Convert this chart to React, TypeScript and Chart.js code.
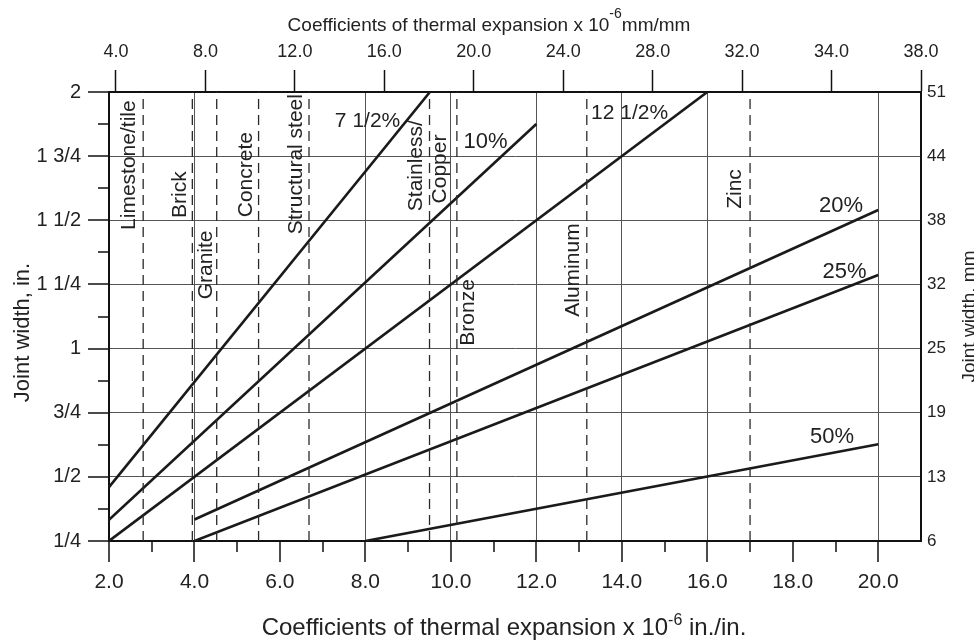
import React, { useEffect, useRef } from 'react';
import { Chart, registerables } from 'chart.js';

Chart.register(...registerables);

const FONT = '"Liberation Sans", Arial, Helvetica, sans-serif';
const INK = '#222222';

// ---- axes ----
const xMajorTicks = [2, 4, 6, 8, 10, 12, 14, 16, 18, 20];
const xMinorTicks = [3, 5, 7, 9, 11, 13, 15, 17, 19];
const xSolidGrid = [4, 8, 10, 12, 14, 16, 20];
const topTickIndex = [0, 1, 2, 3, 4, 5, 6, 7, 8, 9];
const topTickLabels = ['4.0', '8.0', '12.0', '16.0', '20.0', '24.0', '28.0', '32.0', '34.0', '38.0'];
const yTicks = [0.25, 0.5, 0.75, 1, 1.25, 1.5, 1.75, 2];
const yTickLabels = ['1/4', '1/2', '3/4', '1', '1 1/4', '1 1/2', '1 3/4', '2'];
const yMinorTicks = [0.375, 0.625, 0.875, 1.125, 1.375, 1.625, 1.875];
const mmTickLabels = ['6', '13', '19', '25', '32', '38', '44', '51'];

const bottomTitleParts = ['Coefficients of thermal expansion x 10', '-6', ' in./in.'];
const topTitleParts = ['Coefficients of thermal expansion x 10', '-6', 'mm/mm'];
const leftTitle = 'Joint width, in.';
const rightTitle = 'Joint width, mm';

// ---- materials (dashed verticals) ----
const materialCoefficients = [2.8, 3.95, 4.52, 5.5, 6.68, 9.5, 10.14, 13.18, 17.0];
const materialLabels = ['Limestone/tile', 'Brick', 'Granite', 'Concrete', 'Structural steel', 'Stainless/', 'Copper', 'Bronze', 'Aluminum', 'Zinc'];
const materialLabelX = [2.48, 3.67, 4.27, 5.21, 6.38, 9.18, 9.76, 10.4, 12.86, 16.65];
const materialLabelY = [1.715, 1.6, 1.326, 1.678, 1.719, 1.713, 1.7, 1.141, 1.306, 1.622];

// ---- movement lines ----
const movementLabels = ['7 1/2%', '10%', '12 1/2%', '20%', '25%', '50%'];
const movementStartX = [2, 2, 2, 4, 4, 8];
const movementStartY = [0.46, 0.333, 0.25, 0.334, 0.25, 0.25];
const movementEndX = [9.51, 12, 16, 20, 20, 20];
const movementEndY = [2, 1.875, 2, 1.54, 1.287, 0.627];
const movementLabelX = [8.05, 10.81, 14.18, 19.13, 19.21, 18.92];
const movementLabelY = [1.887, 1.807, 1.916, 1.554, 1.3, 0.655];
const movementLabelSize = [21, 22, 21, 22, 22, 22];

const Y_MIN = 0.25;
const Y_MAX = 2;

function drawText(ctx: CanvasRenderingContext2D, s: string, x: number, y: number, size: number, rotate = false, align: CanvasTextAlign = 'center', baseline: CanvasTextBaseline = 'middle') {
  ctx.save();
  ctx.translate(x, y);
  if (rotate) ctx.rotate(-Math.PI / 2);
  ctx.font = `${size}px ${FONT}`;
  ctx.fillStyle = INK;
  ctx.textAlign = align;
  ctx.textBaseline = baseline;
  ctx.fillText(s, 0, 0);
  ctx.restore();
}

function drawSupTitle(ctx: CanvasRenderingContext2D, parts: string[], centerX: number, baseY: number, mainSize: number, supSize: number, raise: number) {
  ctx.save();
  ctx.fillStyle = INK;
  ctx.textBaseline = 'alphabetic';
  ctx.textAlign = 'left';
  ctx.font = `${mainSize}px ${FONT}`;
  const w0 = ctx.measureText(parts[0]).width;
  const w2 = ctx.measureText(parts[2]).width;
  ctx.font = `${supSize}px ${FONT}`;
  const w1 = ctx.measureText(parts[1]).width;
  let x = centerX - (w0 + w1 + w2) / 2;
  ctx.font = `${mainSize}px ${FONT}`;
  ctx.fillText(parts[0], x, baseY);
  x += w0;
  ctx.font = `${supSize}px ${FONT}`;
  ctx.fillText(parts[1], x, baseY - raise);
  x += w1;
  ctx.font = `${mainSize}px ${FONT}`;
  ctx.fillText(parts[2], x, baseY);
  ctx.restore();
}

const decorations = {
  id: 'decorations',
  afterDraw(chart: any) {
    const ctx: CanvasRenderingContext2D = chart.ctx;
    const xs = chart.scales.x;
    const ys = chart.scales.y;
    const area = chart.chartArea;
    ctx.save();
    ctx.strokeStyle = '#111';
    ctx.lineWidth = 1.5;
    ctx.beginPath();
    xMajorTicks.forEach((v) => {
      const px = Math.round(xs.getPixelForValue(v));
      ctx.moveTo(px, area.bottom);
      ctx.lineTo(px, area.bottom + 21);
    });
    xMinorTicks.forEach((v) => {
      const px = Math.round(xs.getPixelForValue(v));
      ctx.moveTo(px, area.bottom);
      ctx.lineTo(px, area.bottom + 11);
    });
    yTicks.forEach((v) => {
      const py = Math.round(ys.getPixelForValue(v));
      ctx.moveTo(area.left, py);
      ctx.lineTo(area.left - 21, py);
    });
    yMinorTicks.forEach((v) => {
      const py = Math.round(ys.getPixelForValue(v));
      ctx.moveTo(area.left, py);
      ctx.lineTo(area.left - 11, py);
    });
    ctx.stroke();
    ctx.restore();

    materialLabels.forEach((s, i) => {
      drawText(ctx, s, xs.getPixelForValue(materialLabelX[i]), ys.getPixelForValue(materialLabelY[i]), 21, true);
    });
    movementLabels.forEach((s, i) => {
      drawText(ctx, s, xs.getPixelForValue(movementLabelX[i]), ys.getPixelForValue(movementLabelY[i]), movementLabelSize[i]);
    });

    const midY = (area.top + area.bottom) / 2;
    drawText(ctx, leftTitle, 29, midY + 16, 22, true, 'center', 'alphabetic');
    drawText(ctx, rightTitle, 975, midY, 19, true, 'center', 'alphabetic');
    const midX = (area.left + area.right) / 2;
    drawSupTitle(ctx, bottomTitleParts, midX - 11, 634.5, 24, 16, 9.5);
    drawSupTitle(ctx, topTitleParts, midX - 26, 30.5, 19, 14, 13);
  },
};

export default function App() {
  const ref = useRef<HTMLCanvasElement | null>(null);
  useEffect(() => {
    if (!ref.current) return;
    const datasets: any[] = [];
    materialCoefficients.forEach((c) => {
      datasets.push({
        data: [{ x: c, y: Y_MIN }, { x: c, y: Y_MAX }],
        borderColor: '#2a2a2a',
        borderWidth: 1.3,
        borderDash: [10, 6],
        pointRadius: 0,
        xAxisID: 'x',
        yAxisID: 'y',
      });
    });
    movementLabels.forEach((_, i) => {
      datasets.push({
        data: [{ x: movementStartX[i], y: movementStartY[i] }, { x: movementEndX[i], y: movementEndY[i] }],
        borderColor: '#1a1a1a',
        borderWidth: 2.6,
        pointRadius: 0,
        xAxisID: 'x',
        yAxisID: 'y',
      });
    });

    const tickFont = (size: number) => ({ family: FONT, size });

    const chart = new Chart(ref.current, {
      type: 'line',
      data: { datasets },
      plugins: [decorations],
      options: {
        animation: false,
        responsive: false,
        devicePixelRatio: 1,
        events: [],
        layout: { padding: 0 },
        plugins: { legend: { display: false }, tooltip: { enabled: false }, title: { display: false } },
        scales: {
          x: {
            type: 'linear',
            position: 'bottom',
            min: 2,
            max: 21,
            afterBuildTicks: (s: any) => { s.ticks = xMajorTicks.map((v) => ({ value: v })); },
            afterFit: (s: any) => { s.height = 101; },
            ticks: {
              autoSkip: false,
              maxRotation: 0,
              minRotation: 0,
              padding: 8,
              color: INK,
              font: tickFont(21),
              callback: (v: any) => Number(v).toFixed(1),
            },
            grid: {
              color: (c: any) => (c.tick && xSolidGrid.includes(c.tick.value) ? '#555' : 'rgba(0,0,0,0)'),
              lineWidth: 1,
              tickLength: 21,
              tickColor: 'rgba(0,0,0,0)',
            },
            border: { display: true, color: '#111', width: 2 },
          },
          x2: {
            type: 'linear',
            position: 'top',
            min: -0.078,
            max: 9,
            afterBuildTicks: (s: any) => { s.ticks = topTickIndex.map((v) => ({ value: v })); },
            afterFit: (s: any) => { s.height = 92; },
            ticks: {
              autoSkip: false,
              maxRotation: 0,
              minRotation: 0,
              padding: 7,
              color: INK,
              font: tickFont(18),
              callback: (_v: any, i: number) => topTickLabels[i],
            },
            grid: {
              drawOnChartArea: false,
              tickLength: 22,
              tickColor: '#111',
              tickWidth: 1.5,
            },
            border: { display: true, color: '#111', width: 2 },
          },
          y: {
            type: 'linear',
            position: 'left',
            min: Y_MIN,
            max: Y_MAX,
            afterBuildTicks: (s: any) => { s.ticks = yTicks.map((v) => ({ value: v })); },
            afterFit: (s: any) => { s.width = 109; },
            ticks: {
              autoSkip: false,
              padding: 7,
              color: INK,
              font: tickFont(20),
              callback: (_v: any, i: number) => yTickLabels[i],
            },
            grid: {
              color: '#555',
              lineWidth: 1,
              tickLength: 21,
              tickColor: 'rgba(0,0,0,0)',
            },
            border: { display: true, color: '#111', width: 2 },
          },
          y2: {
            type: 'linear',
            position: 'right',
            min: Y_MIN,
            max: Y_MAX,
            afterBuildTicks: (s: any) => { s.ticks = yTicks.map((v) => ({ value: v })); },
            afterFit: (s: any) => { s.width = 53; },
            ticks: {
              autoSkip: false,
              padding: 6,
              color: INK,
              font: tickFont(17),
              callback: (_v: any, i: number) => mmTickLabels[i],
            },
            grid: {
              drawOnChartArea: false,
              drawTicks: false,
            },
            border: { display: true, color: '#111', width: 2 },
          },
        },
      } as any,
    });
    return () => chart.destroy();
  }, []);

  return (
    <div style={{ position: 'absolute', left: 0, top: 0, width: 974, height: 642, background: '#fff' }}>
      <canvas ref={ref} width={974} height={642} style={{ display: 'block' }} />
    </div>
  );
}
